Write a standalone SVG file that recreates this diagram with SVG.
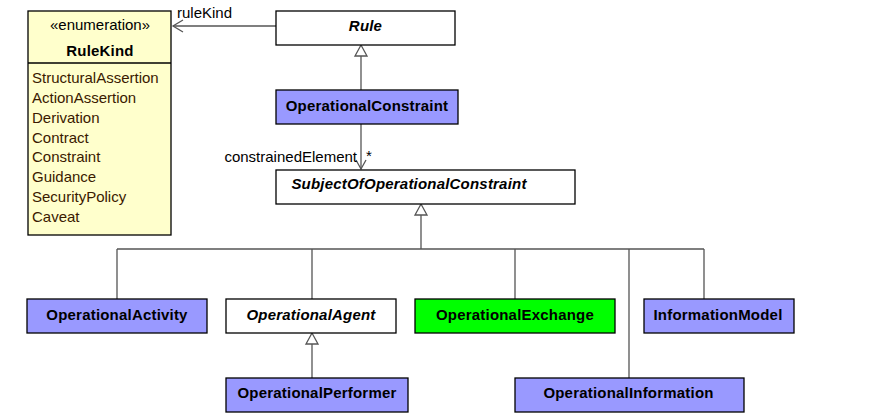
<svg xmlns="http://www.w3.org/2000/svg" width="891" height="417" viewBox="0 0 891 417">
<style>
.n{stroke:#000;stroke-width:1.3}
.p{fill:#9999ff}
.w{fill:#fff}
.t{font-family:"Liberation Sans",Arial,sans-serif;font-size:15px;font-weight:bold;letter-spacing:0.2px;fill:#000;text-anchor:middle}
.i{font-style:italic}
.l{font-family:"Liberation Sans",Arial,sans-serif;font-size:15px;fill:#000}
.e{font-family:"Liberation Sans",Arial,sans-serif;font-size:15px;fill:#3a1a00}
.c{stroke:#555;stroke-width:1.3;fill:none}
.g{stroke:#555;stroke-width:1.3;fill:#fff}
</style>
<rect width="891" height="417" fill="#fff"/>
<g id="connectors">
<path class="c" d="M276,26 H173"/>
<path class="c" d="M183,20 L173,26 L183,32"/>
<text class="l" x="177" y="18">ruleKind</text>
<path class="c" d="M361,56 V90"/>
<path class="g" d="M361,45 L355,56 H367 Z"/>
<path class="c" d="M361,124 V169"/>
<path class="c" d="M356,160 L361,169 L366,160"/>
<text class="l" x="357" y="162" text-anchor="end">constrainedElement</text>
<text class="l" x="366" y="161">*</text>
<path class="c" d="M421,215 V249 M117,249 H704 M117,249 V299 M312,249 V299 M515,249 V299 M629,249 V378 M704,249 V299"/>
<path class="g" d="M421,204 L415,215 H427 Z"/>
<path class="c" d="M312,344 V378"/>
<path class="g" d="M312,333 L306,344 H318 Z"/>
</g>
<g id="RuleKind">
<rect class="n" x="28" y="11" width="143" height="224" fill="#ffffcc"/>
<line class="n" x1="28" y1="63" x2="171" y2="63"/>
<text class="l" x="100" y="30" text-anchor="middle">«enumeration»</text>
<text class="t" x="100" y="55.5">RuleKind</text>
<text class="e" x="32" y="83">StructuralAssertion</text>
<text class="e" x="32" y="103">ActionAssertion</text>
<text class="e" x="32" y="123">Derivation</text>
<text class="e" x="32" y="143">Contract</text>
<text class="e" x="32" y="162">Constraint</text>
<text class="e" x="32" y="182">Guidance</text>
<text class="e" x="32" y="202">SecurityPolicy</text>
<text class="e" x="32" y="222">Caveat</text>
</g>
<g id="Rule">
<rect class="n w" x="276" y="11" width="179" height="34"/>
<text class="t i" x="365.5" y="30.5">Rule</text>
</g>
<g id="OperationalConstraint">
<rect class="n p" x="276" y="90" width="182" height="34"/>
<text class="t" x="367" y="110.5">OperationalConstraint</text>
</g>
<g id="SubjectOfOperationalConstraint">
<rect class="n w" x="276" y="170" width="299" height="34"/>
<text class="t i" x="409" y="189">SubjectOfOperationalConstraint</text>
</g>
<g id="OperationalActivity">
<rect class="n p" x="27" y="299" width="180" height="34"/>
<text class="t" x="117" y="319.5">OperationalActivity</text>
</g>
<g id="OperationalAgent">
<rect class="n w" x="226" y="299" width="170" height="34"/>
<text class="t i" x="311" y="319.5">OperationalAgent</text>
</g>
<g id="OperationalExchange">
<rect class="n" x="415" y="299" width="200" height="34" fill="#00ff00"/>
<text class="t" x="515" y="319.5">OperationalExchange</text>
</g>
<g id="InformationModel">
<rect class="n p" x="644" y="299" width="150" height="34"/>
<text class="t" x="718" y="319.5">InformationModel</text>
</g>
<g id="OperationalPerformer">
<rect class="n p" x="226" y="378" width="182" height="34"/>
<text class="t" x="317" y="398">OperationalPerformer</text>
</g>
<g id="OperationalInformation">
<rect class="n p" x="515" y="378" width="229" height="34"/>
<text class="t" x="628.5" y="398">OperationalInformation</text>
</g>
</svg>
